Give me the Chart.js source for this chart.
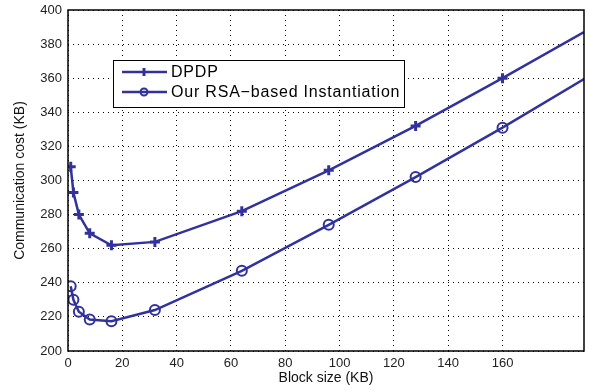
<!DOCTYPE html>
<html>
<head>
<meta charset="utf-8">
<script src="https://cdn.jsdelivr.net/npm/chart.js@4"></script>
<style>
  body { margin: 0; background: #fff; overflow: hidden; }
  #wrap { width: 592px; height: 391px; }
</style>
</head>
<body>
<div id="wrap"><canvas id="myChart"></canvas></div>
<script>
var blockSizes = [1, 2, 4, 8, 16, 32, 64, 96, 128, 160, 190];
var dpdpCost = [308, 293, 280, 269, 262, 264, 282, 306, 332, 360, 387];
var rsaCost = [238, 230, 223, 218.5, 217.5, 224, 247, 274, 302, 331, 359.5];
var markerShown = [1, 1, 1, 1, 1, 1, 1, 1, 1, 1, 0];

var lineColor = '#32329c';
var fontFam = '"Liberation Sans", Arial, sans-serif';

function toPoints(xs, ys) {
    return xs.map(function (x, i) { return { x: x, y: ys[i] }; });
}

// legend box drawn inside the plot, like the matlab figure
var insideLegend = {
    id: 'insideLegend',
    afterDraw: function (chart) {
        var c = chart.ctx;
        var x0 = 113, y0 = 60, w = 291, h = 47;
        c.save();
        c.fillStyle = '#fff';
        c.fillRect(x0, y0, w, h);
        c.strokeStyle = '#000';
        c.lineWidth = 1;
        c.strokeRect(x0 + 0.5, y0 + 0.5, w, h);
        c.font = '16px ' + fontFam;
        c.letterSpacing = '0.8px';
        c.textBaseline = 'middle';
        chart.data.datasets.forEach(function (ds, i) {
            var yy = y0 + 12 + i * 20;
            c.strokeStyle = lineColor;
            c.lineWidth = 2.5;
            c.beginPath();
            c.moveTo(x0 + 9, yy);
            c.lineTo(x0 + 54, yy);
            c.stroke();
            if (i === 0) {
                c.lineWidth = 3;
                c.beginPath();
                c.moveTo(x0 + 31, yy - 4); c.lineTo(x0 + 31, yy + 4);
                c.stroke();
            } else {
                c.lineWidth = 2;
                c.beginPath();
                c.arc(x0 + 31, yy, 3.5, 0, Math.PI * 2);
                c.stroke();
            }
            c.fillStyle = '#000';
            c.fillText(ds.label, x0 + 58, yy + 1);
        });
        c.restore();
    }
};

// solid box around the plot area
var frame = {
    id: 'frame',
    afterDatasetsDraw: function (chart) {
        var a = chart.chartArea, c = chart.ctx;
        c.save();
        c.strokeStyle = '#000';
        c.lineWidth = 1.5;
        c.strokeRect(a.left, a.top, a.right - a.left, a.bottom - a.top);
        c.restore();
    }
};

var ctx = document.getElementById('myChart').getContext('2d');
var myChart = new Chart(ctx, {
    type: 'line',
    data: {
        datasets: [{
            label: 'DPDP',
            data: toPoints(blockSizes, dpdpCost),
            borderColor: lineColor,
            borderWidth: 2.5,
            pointStyle: 'cross',
            pointRadius: markerShown.map(function (m) { return m ? 5 : 0; }),
            pointBorderWidth: 3,
            pointBorderColor: lineColor,
            fill: false,
            tension: 0
        }, {
            label: 'Our RSA\u2212based Instantiation',
            data: toPoints(blockSizes, rsaCost),
            borderColor: lineColor,
            borderWidth: 2.5,
            pointStyle: 'circle',
            pointRadius: markerShown.map(function (m) { return m ? 5 : 0; }),
            pointBorderWidth: 2,
            pointBackgroundColor: 'rgba(0,0,0,0)',
            pointBorderColor: lineColor,
            fill: false,
            tension: 0
        }]
    },
    options: {
        responsive: true,
        maintainAspectRatio: false,
        animation: false,
        layout: { padding: { top: 10, right: 0, left: 0, bottom: 0 } },
        plugins: {
            legend: { display: false },
            tooltip: { enabled: false }
        },
        scales: {
            x: {
                type: 'linear',
                min: 0,
                max: 190,
                afterBuildTicks: function (s) {
                    s.ticks = s.ticks.filter(function (t) { return t.value <= 180; });
                },
                afterFit: function (s) {
                    s.height = 40;
                    s.paddingRight = 0;
                    s.paddingLeft = 0;
                },
                ticks: {
                    stepSize: 20,
                    color: '#222',
                    padding: 5,
                    maxRotation: 0,
                    font: { family: fontFam, size: 13 }
                },
                grid: {
                    color: '#000',
                    lineWidth: 1,
                    drawTicks: false
                },
                border: { display: false, dash: [1, 4] },
                title: {
                    display: true,
                    text: 'Block size (KB)',
                    color: '#111',
                    padding: { top: 0, bottom: 4 },
                    font: { family: fontFam, size: 14 }
                }
            },
            y: {
                min: 200,
                max: 400,
                afterFit: function (s) {
                    s.width = 68;
                    s.paddingTop = 0;
                    s.paddingBottom = 0;
                },
                ticks: {
                    stepSize: 20,
                    color: '#222',
                    padding: 6,
                    font: { family: fontFam, size: 13 }
                },
                grid: {
                    color: '#000',
                    lineWidth: 1,
                    drawTicks: false
                },
                border: { display: false, dash: [1, 4] },
                title: {
                    display: true,
                    text: 'Communication cost (KB)',
                    color: '#111',
                    padding: { top: 12, bottom: 4 },
                    font: { family: fontFam, size: 14 }
                }
            }
        }
    },
    plugins: [frame, insideLegend]
});
</script>
</body>
</html>
